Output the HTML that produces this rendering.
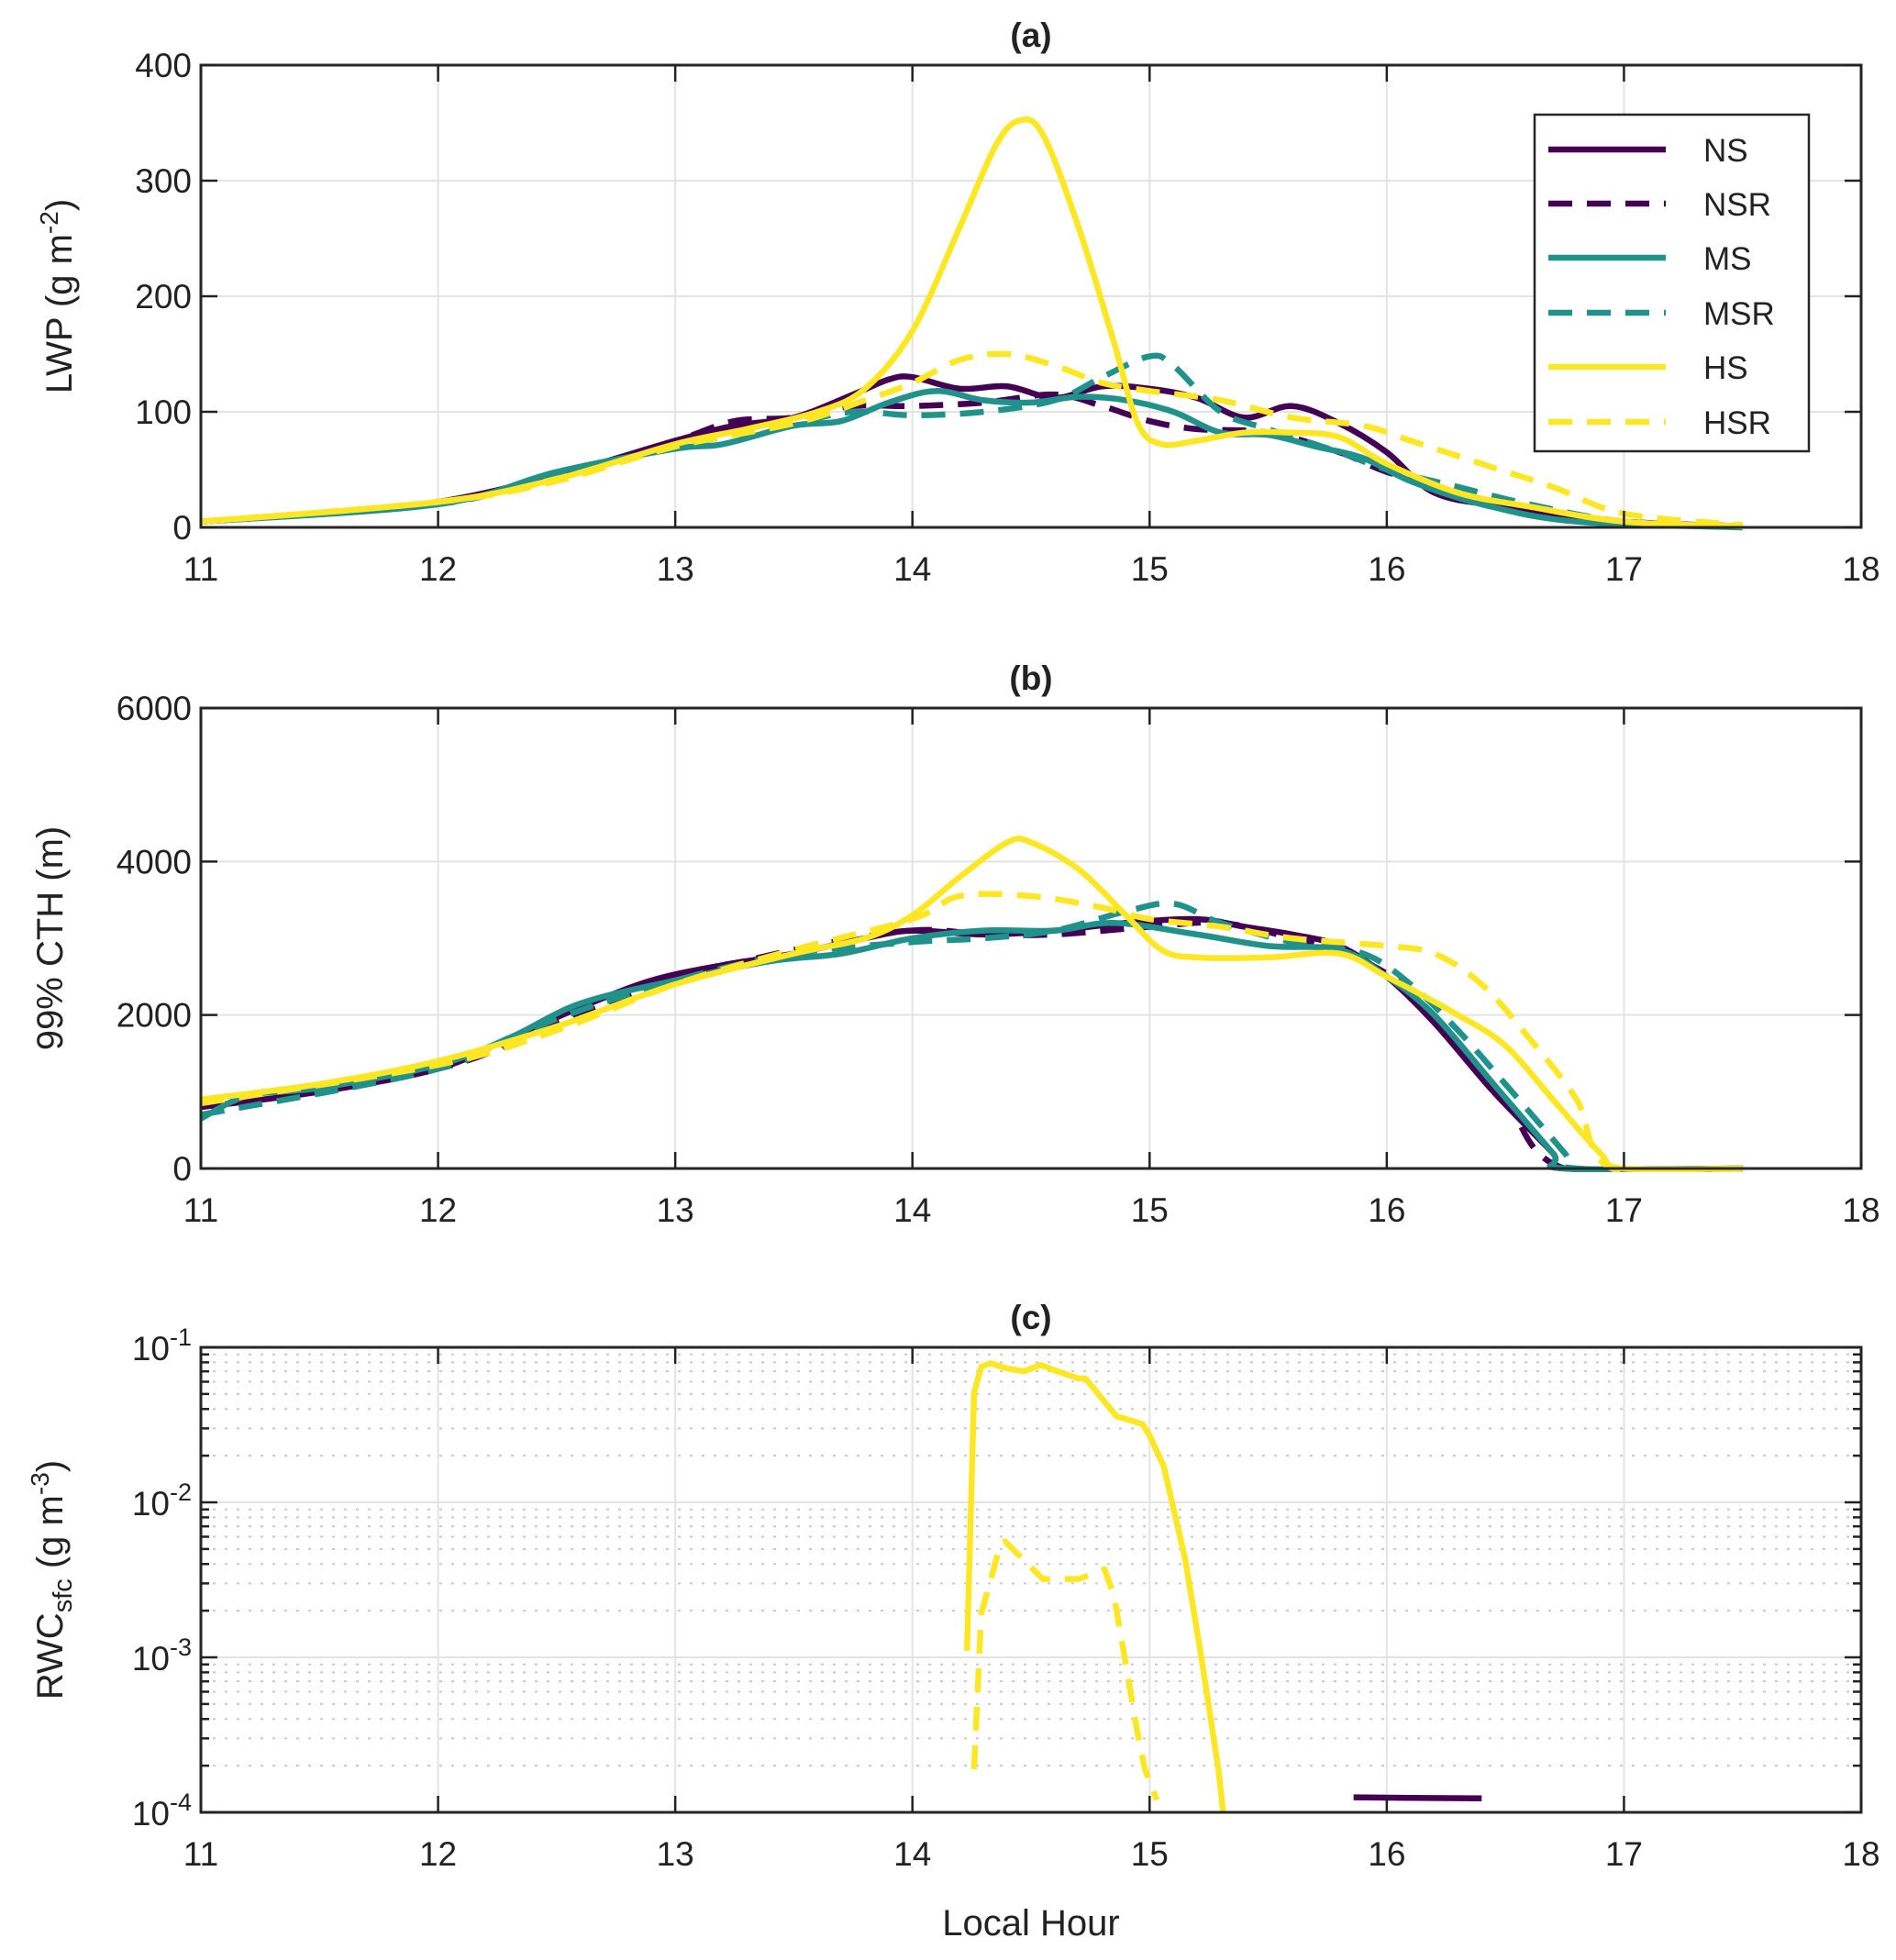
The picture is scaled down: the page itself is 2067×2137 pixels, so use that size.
<!DOCTYPE html>
<html><head><meta charset="utf-8">
<style>
html,body{margin:0;padding:0;background:#fff;}
svg{display:block;font-family:"Liberation Sans",Arial,sans-serif;}
</style></head>
<body>
<svg id="chart" width="2067" height="2137" viewBox="0 0 2067 2137" xmlns="http://www.w3.org/2000/svg"></svg>
<script>
// ---------- data ----------
const xTicks = [11,12,13,14,15,16,17,18];
const lwpTicks = [0,100,200,300,400];
const cthTicks = [0,2000,4000,6000];
const rwcTickExps = [-4,-3,-2,-1];
const seriesNames = ["NS","NSR","MS","MSR","HS","HSR"];

// Panel (a) LWP
const lwpNS_x  = [11,11.5,12,12.5,13,13.25,13.5,13.75,13.9,14,14.2,14.4,14.6,14.8,15,15.2,15.4,15.6,15.8,16,16.2,16.5,17,17.5];
const lwpNS_y  = [5,12,22,45,75,88,95,115,128,130,120,122,112,122,120,112,95,105,90,65,30,18,5,1];
const lwpNSR_x = [11,12,12.5,13,13.25,13.5,13.75,14,14.3,14.6,14.8,15,15.2,15.5,15.8,16,16.3,16.6,17,17.5];
const lwpNSR_y = [5,22,45,75,92,95,105,105,108,115,105,92,85,82,65,48,30,15,5,1];
const lwpMS_x  = [11,12,12.5,13,13.2,13.5,13.7,13.9,14.1,14.3,14.5,14.7,14.9,15.1,15.3,15.5,15.7,15.9,16.1,16.4,16.8,17.5];
const lwpMS_y  = [5,20,48,68,72,88,92,108,118,110,108,113,110,100,82,80,70,60,40,20,5,0];
const lwpMSR_x = [11,12,12.5,13,13.5,13.75,14,14.3,14.6,14.8,15,15.1,15.3,15.5,15.8,16,16.3,16.6,17,17.5];
const lwpMSR_y = [5,20,45,70,90,100,97,100,110,130,148,140,100,85,65,50,35,20,5,1];
const lwpHS_x  = [11,12,12.5,13,13.3,13.6,13.8,14,14.2,14.35,14.45,14.55,14.7,14.85,14.95,15.05,15.2,15.4,15.6,15.8,16,16.3,16.6,17,17.5];
const lwpHS_y  = [5,22,42,72,85,100,120,170,260,330,352,340,260,160,90,72,75,82,82,78,55,30,18,5,1];
const lwpHSR_x = [11,12,12.5,13,13.5,13.8,14,14.2,14.4,14.6,14.8,15,15.3,15.6,15.9,16.1,16.4,16.7,17,17.5];
const lwpHSR_y = [5,22,40,70,90,110,125,145,150,140,125,118,110,95,88,75,55,35,12,2];

// Panel (b) 99% CTH
const cthNS_x  = [11,11.5,12,12.3,12.6,12.9,13.2,13.5,13.8,14,14.3,14.6,14.9,15.2,15.4,15.6,15.8,16,16.2,16.45,16.7,16.75,17.5];
const cthNS_y  = [800,1000,1300,1700,2100,2450,2650,2800,3000,3100,3050,3100,3200,3250,3150,3050,2900,2500,1900,1000,200,0,0];
const cthNSR_x = [11,12,12.5,13,13.5,14,14.3,14.6,15,15.3,15.6,15.9,16.1,16.3,16.5,16.75,17.5];
const cthNSR_y = [800,1300,1900,2450,2850,3100,3050,3050,3150,3200,3000,2700,2300,1600,900,0,0];
const cthMS_x  = [11,11.2,11.5,12,12.3,12.6,13,13.4,13.7,14,14.3,14.6,14.85,15.2,15.5,15.8,16,16.2,16.45,16.7,16.75,17.5];
const cthMS_y  = [650,950,1050,1350,1700,2150,2450,2700,2800,3000,3100,3100,3200,3050,2900,2850,2500,2000,1100,200,0,0];
const cthMSR_x = [11,12,12.5,13,13.5,14,14.3,14.6,14.9,15.1,15.3,15.6,15.9,16.1,16.3,16.5,16.75,16.8,17.5];
const cthMSR_y = [700,1300,1950,2450,2800,2950,3000,3100,3350,3450,3200,2950,2800,2400,1800,1100,200,0,0];
const cthHS_x  = [11,11.5,12,12.5,13,13.5,13.8,14,14.2,14.4,14.5,14.7,14.9,15.05,15.2,15.5,15.8,16,16.3,16.5,16.7,16.9,17,17.5];
const cthHS_y  = [900,1100,1400,1850,2400,2800,3000,3300,3800,4250,4250,3900,3300,2850,2750,2750,2800,2500,2000,1600,900,200,0,0];
const cthHSR_x = [11,12,12.5,13,13.5,14,14.2,14.5,14.8,15,15.3,15.6,16,16.2,16.4,16.6,16.8,16.95,17.5];
const cthHSR_y = [850,1350,1800,2400,2850,3250,3550,3550,3400,3250,3150,3000,2900,2800,2400,1700,900,0,0];

// Panel (c) RWC_sfc (log)
const rwcHS_x  = [14.23,14.26,14.29,14.33,14.40,14.47,14.54,14.60,14.70,14.73,14.86,14.97,15.0,15.06,15.15,15.22,15.29,15.31];
const rwcHS_y  = [1.1e-3,0.051,0.075,0.079,0.073,0.070,0.077,0.071,0.063,0.063,0.036,0.032,0.027,0.017,0.0043,9.6e-4,1.9e-4,1e-4];
const rwcHSR_x = [14.26,14.29,14.34,14.37,14.39,14.48,14.55,14.70,14.81,14.85,14.89,14.95,14.98,15.03];
const rwcHSR_y = [1.9e-4,1.9e-3,3.6e-3,5.3e-3,5.6e-3,4.1e-3,3.2e-3,3.2e-3,3.7e-3,2.5e-3,1.1e-3,3.2e-4,1.9e-4,1.2e-4];
const rwcNS_x  = [15.86,16.1,16.4];
const rwcNS_y  = [1.25e-4,1.24e-4,1.23e-4];

// ---------- layout ----------
const NS="http://www.w3.org/2000/svg";
const svg=document.getElementById('chart');
const L=219,R=2029;
const LW=6.5;
const panels=[{top:71,bot:575},{top:772,bot:1274},{top:1469,bot:1976}];
const colors={NS:"#440154",NSR:"#440154",MS:"#21918c",MSR:"#21918c",HS:"#fde725",HSR:"#fde725"};
const dashed={NS:false,NSR:true,MS:false,MSR:true,HS:false,HSR:true};
const xs=v=>L+(v-11)/7*(R-L);
function mk(tag,attrs,parent){const e=document.createElementNS(NS,tag);for(const k in attrs)e.setAttribute(k,attrs[k]);(parent||svg).appendChild(e);return e;}
function txt(s,x,y,size,anchor,weight,parent){const t=mk('text',{x:x,y:y,'font-size':size,'text-anchor':anchor||'middle','font-weight':weight||'normal',fill:'#222'},parent);t.textContent=s;return t;}

function smoothPath(pts){
  let d=`M${pts[0][0]},${pts[0][1]}`;
  for(let i=0;i<pts.length-1;i++){
    const p0=pts[Math.max(i-1,0)],p1=pts[i],p2=pts[i+1],p3=pts[Math.min(i+2,pts.length-1)];
    const c1=[p1[0]+(p2[0]-p0[0])/6,p1[1]+(p2[1]-p0[1])/6];
    const c2=[p2[0]-(p3[0]-p1[0])/6,p2[1]-(p3[1]-p1[1])/6];
    d+=` C${c1[0]},${c1[1]} ${c2[0]},${c2[1]} ${p2[0]},${p2[1]}`;
  }
  return d;
}
function linePath(pts){return pts.map((p,i)=>(i?'L':'M')+p[0]+','+p[1]).join(' ');}

function drawFrame(title){
  const g=mk('g',{});
  
  
  return g;
}

function linearPanel(pi,ticks,ymax,label,title,data){
  const P=panels[pi];
  const g=drawFrame(title);
  const ys=v=>P.bot-(v/ymax)*(P.bot-P.top);
  const grid=mk('g',{},g);
  
  
  xTicks.forEach(t=>{const x=xs(t);mk('line',{x1:x,x2:x,y1:P.top,y2:P.bot,stroke:'#e3e3e3','stroke-width':2},grid);});
  ticks.forEach(t=>{const y=ys(t);mk('line',{x1:L,x2:R,y1:y,y2:y,stroke:'#e3e3e3','stroke-width':2},grid);});
  const series=mk('g',{'clip-path':'url(#clip'+pi+')'},g);
  
  
  seriesNames.forEach(n=>{
    const d=data[n];const pts=d[0].map((x,i)=>[xs(x),ys(d[1][i])]);
    const path=mk('path',{d:smoothPath(pts),fill:'none',stroke:colors[n],'stroke-width':LW,'stroke-dasharray':dashed[n]?'26,16':'none','stroke-linejoin':'round'},series);
    
    
  });
  axesBox(P,g);
  ticks.forEach(t=>{const y=ys(t);
    mk('line',{x1:L,x2:L+18,y1:y,y2:y,stroke:'#222','stroke-width':2.5},g);
    mk('line',{x1:R,x2:R-18,y1:y,y2:y,stroke:'#222','stroke-width':2.5},g);
    const tl=txt(String(t),L-10,y+13,37,'end','normal',g);
    
    
  });
  xTickLabels(P,g);
  const tt=txt(title,(L+R)/2,P.top-20,37,'middle','bold',g);
  
  
  const yl=mk('text',{x:0,y:0,'font-size':40,'text-anchor':'middle',fill:'#222',transform:`translate(${label.x},${(P.top+P.bot)/2}) rotate(-90)`},g);
  yl.innerHTML=label.html;
  
  
}
function axesBox(P,g){
  const b=mk('rect',{x:L,y:P.top,width:R-L,height:P.bot-P.top,fill:'none',stroke:'#262626','stroke-width':3},g);
  
  
}
function xTickLabels(P,g){
  xTicks.forEach(t=>{const x=xs(t);
    mk('line',{x1:x,x2:x,y1:P.bot,y2:P.bot-18,stroke:'#222','stroke-width':2.5},g);
    mk('line',{x1:x,x2:x,y1:P.top,y2:P.top+18,stroke:'#222','stroke-width':2.5},g);
    const tl=txt(String(t),x,P.bot+58,37,'middle','normal',g);
    
    
  });
}

const defs=mk('defs',{});
panels.forEach((P,i)=>{const c=mk('clipPath',{id:'clip'+i},defs);mk('rect',{x:L,y:P.top-4,width:R-L,height:P.bot-P.top+8},c);});

linearPanel(0,lwpTicks,400,{x:78,html:'LWP (g m<tspan dy="-15" font-size="28">-2</tspan><tspan dy="15">)</tspan>'},'(a)',
  {NS:[lwpNS_x,lwpNS_y],NSR:[lwpNSR_x,lwpNSR_y],MS:[lwpMS_x,lwpMS_y],MSR:[lwpMSR_x,lwpMSR_y],HS:[lwpHS_x,lwpHS_y],HSR:[lwpHSR_x,lwpHSR_y]});
linearPanel(1,cthTicks,6000,{x:68,html:'99% CTH (m)'},'(b)',
  {NS:[cthNS_x,cthNS_y],NSR:[cthNSR_x,cthNSR_y],MS:[cthMS_x,cthMS_y],MSR:[cthMSR_x,cthMSR_y],HS:[cthHS_x,cthHS_y],HSR:[cthHSR_x,cthHSR_y]});

(function(){
  const P=panels[2];
  const g=drawFrame('(c)');
  const ys=v=>P.bot-(Math.log10(v)+4)/3*(P.bot-P.top);
  const grid=mk('g',{},g);
  
  
  for(let e=-4;e<-1;e++){for(let m=2;m<=9;m++){const y=ys(m*Math.pow(10,e));
    mk('line',{x1:L,x2:R,y1:y,y2:y,stroke:'#c8c8c8','stroke-width':2,'stroke-dasharray':'3,10'},grid);}}
  xTicks.forEach(t=>{const x=xs(t);mk('line',{x1:x,x2:x,y1:P.top,y2:P.bot,stroke:'#e3e3e3','stroke-width':2},grid);});
  rwcTickExps.forEach(e=>{const y=ys(Math.pow(10,e));mk('line',{x1:L,x2:R,y1:y,y2:y,stroke:'#e3e3e3','stroke-width':2},grid);});
  const series=mk('g',{'clip-path':'url(#clip2)'},g);
  
  
  const cdata={HS:[rwcHS_x,rwcHS_y],HSR:[rwcHSR_x,rwcHSR_y],NS:[rwcNS_x,rwcNS_y]};
  for(const n in cdata){const d=cdata[n];const pts=d[0].map((x,i)=>[xs(x),ys(d[1][i])]);
    const path=mk('path',{d:linePath(pts),fill:'none',stroke:colors[n],'stroke-width':LW,'stroke-dasharray':dashed[n]?'26,16':'none','stroke-linejoin':'round'},series);
    
    
  }
  axesBox(P,g);
  for(let e=-4;e<=-1;e++){
    const y=ys(Math.pow(10,e));
    mk('line',{x1:L,x2:L+18,y1:y,y2:y,stroke:'#222','stroke-width':2.5},g);
    mk('line',{x1:R,x2:R-18,y1:y,y2:y,stroke:'#222','stroke-width':2.5},g);
    if(e<-1){for(let m=2;m<=9;m++){const yy=ys(m*Math.pow(10,e));
      mk('line',{x1:L,x2:L+9,y1:yy,y2:yy,stroke:'#222','stroke-width':2.5},g);
      mk('line',{x1:R,x2:R-9,y1:yy,y2:yy,stroke:'#222','stroke-width':2.5},g);}}
  }
  rwcTickExps.forEach(e=>{const y=ys(Math.pow(10,e));
    const tl=mk('text',{x:L-10,y:y+14,'font-size':37,'text-anchor':'end',fill:'#222'},g);
    tl.innerHTML='10<tspan dy="-16" font-size="27">'+e+'</tspan>';
    
    
  });
  xTickLabels(P,g);
  const tt=txt('(c)',(L+R)/2,P.top-20,37,'middle','bold',g);
  
  
  const yl=mk('text',{x:0,y:0,'font-size':40,'text-anchor':'middle',fill:'#222',transform:`translate(${68},${(P.top+P.bot)/2}) rotate(-90)`},g);
  yl.innerHTML='RWC<tspan dy="10" font-size="29">sfc</tspan><tspan dy="-10"> (g m</tspan><tspan dy="-15" font-size="28">-3</tspan><tspan dy="15">)</tspan>';
  
  
  const xl=txt('Local Hour',(L+R)/2,2110,40,'middle','normal');
  
  
})();

(function(){
  const g=mk('g',{});
  
  
  mk('rect',{x:1673,y:125,width:299,height:367,fill:'#fff',stroke:'#262626','stroke-width':2.5},g);
  const ys0=[163,222,281,341,400,460];
  seriesNames.forEach((n,i)=>{
    const e=mk('g',{},g);
    
    
    mk('line',{x1:1688,x2:1816,y1:ys0[i],y2:ys0[i],stroke:colors[n],'stroke-width':LW,'stroke-dasharray':dashed[n]?'26,16':'none'},e);
    txt(n,1857,ys0[i]+13,35,'start','normal',e);
  });
})();
</script>
</body></html>
